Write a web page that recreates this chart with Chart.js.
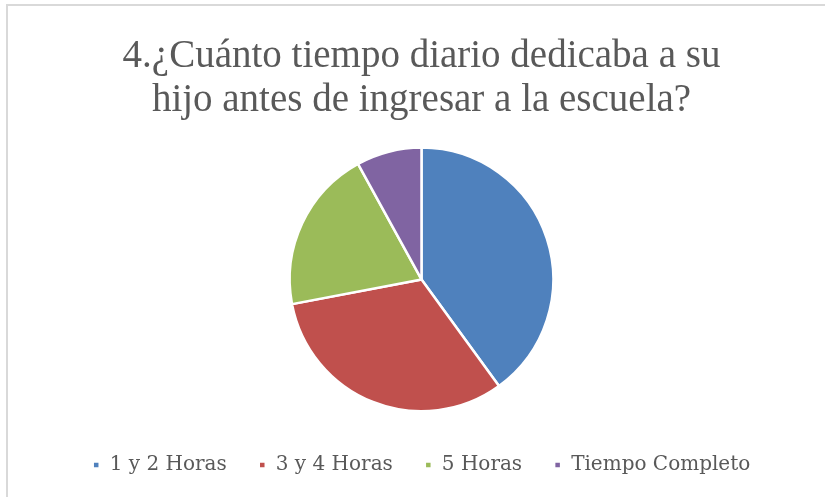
<!DOCTYPE html>
<html>
<head>
<meta charset="utf-8">
<script src="https://cdn.jsdelivr.net/npm/chart.js@4.4.0/dist/chart.umd.min.js"></script>
<style>
  html, body { margin: 0; padding: 0; background: #ffffff; overflow: hidden; }
  #frame {
    position: absolute; left: 6px; top: 4px; width: 840px; height: 520px;
    border: 2px solid #d9d9d9; box-sizing: border-box;
  }
  #wrap { position: absolute; left: 0; top: 0; width: 825px; height: 497px; }
</style>
</head>
<body>
<div id="frame"></div>
<div id="wrap"><canvas id="pie" width="825" height="497"></canvas></div>
<script>
// data (counts out of 25)
const categories = ["1 y 2 Horas", "3 y 4 Horas", "5 Horas", "Tiempo Completo"];
const answers = [10, 8, 5, 2];
const sliceColors = ["#4F81BD", "#C0504D", "#9BBB59", "#8064A2"];
const titleLines = ["4.¿Cuánto tiempo diario dedicaba a su", "hijo antes de ingresar a la escuela?"];

const pie = document.getElementById("pie");

const myChart = new Chart(pie, {
    type: "pie",
    data: {
        labels: categories,
        datasets: [
            {
                data: answers,
                backgroundColor: sliceColors,
                borderColor: "#ffffff",
                borderWidth: 2.5,
            },
        ],
    },
    options: {
        responsive: false,
        animation: false,
        layout: { padding: { top: 10, bottom: 12, left: 18, right: 0 } },
        plugins: {
            tooltip: { enabled: false },
            title: {
                display: true,
                text: titleLines,
                color: "#595959",
                font: { family: "'Liberation Serif', serif", size: 39, weight: "normal", lineHeight: 1.12 },
                padding: { top: 25, bottom: 24 },
            },
            legend: {
                display: true,
                position: "bottom",
                // empty legend title only adds a little space above the items
                title: { display: true, text: "", font: { size: 1, lineHeight: 1 }, padding: { top: 6.5, bottom: 3 } },
                labels: {
                    color: "#595959",
                    font: { family: "'DejaVu Serif', serif", size: 20 },
                    boxWidth: 7,
                    boxHeight: 7,
                    padding: 32,
                },
            },
        },
    },
});
</script>
</body>
</html>
